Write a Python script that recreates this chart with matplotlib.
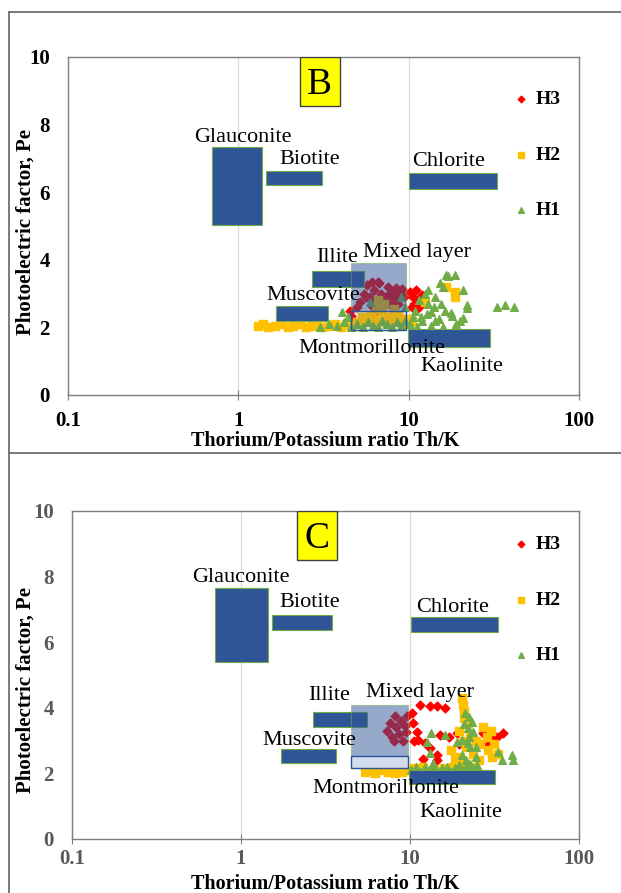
import matplotlib.pyplot as plt
from matplotlib.patches import Rectangle
from matplotlib.lines import Line2D

plt.rcParams['font.family'] = ['Liberation Serif', 'DejaVu Serif']

# ---- data: panel B ----
b_h3 = [(4.5, 2.5), (4.6, 2.35), (5.0, 2.6), (5.2, 2.75), (5.5, 3.0), (5.6, 2.9), (5.7, 3.25),
        (5.9, 2.9), (6.0, 2.65), (6.1, 3.35), (6.3, 3.1), (6.5, 2.8), (6.63, 3.34), (6.7, 3.3),
        (6.9, 3.0), (7.1, 2.75), (7.4, 2.9), (7.6, 3.2), (7.8, 2.7), (7.9, 3.05), (8.2, 2.85),
        (8.4, 3.17), (8.5, 3.1), (8.6, 2.7), (8.8, 2.95), (9.1, 3.15), (9.4, 2.9), (6.6, 2.3),
        (7.5, 2.2), (10.2, 3.05), (10.4, 2.6), (10.6, 2.9), (10.8, 2.7), (11.0, 3.1), (11.2, 2.55),
        (11.4, 2.8), (11.8, 2.65), (12.0, 2.95)]
b_h2 = [(1.3, 2.05), (1.4, 2.1), (1.5, 2.0), (1.65, 2.05), (1.8, 2.1), (1.95, 2.0), (2.1, 2.05),
        (2.3, 2.1), (2.5, 2.0), (2.7, 2.05), (2.9, 2.1), (3.1, 2.0), (3.4, 2.05), (3.7, 2.1),
        (4.0, 2.0), (4.3, 2.1), (4.6, 2.05), (5.0, 2.15), (5.3, 2.3), (5.6, 2.2), (6.0, 2.35),
        (6.3, 2.1), (6.7, 2.25), (7.0, 2.4), (7.4, 2.15), (7.8, 2.3), (8.2, 2.2), (8.7, 2.35),
        (9.2, 2.1), (9.6, 2.25), (6.6, 2.8), (6.9, 2.6), (7.2, 2.7), (8.2, 2.55), (6.4, 2.55),
        (16.6, 3.2), (18.7, 3.05), (18.7, 2.9), (10.5, 2.2), (12.5, 2.75)]
b_h1 = [(3.0, 2.0), (3.4, 2.1), (3.8, 2.05), (4.05, 2.45), (4.2, 2.15), (4.6, 2.0), (5.0, 2.1),
        (5.4, 2.0), (5.8, 2.15), (5.9, 2.75), (6.2, 2.05), (6.6, 2.0), (7.0, 2.2), (7.5, 2.1),
        (8.0, 2.0), (8.5, 2.15), (8.96, 2.9), (9.0, 2.05), (9.5, 2.6), (9.5, 2.2), (10.2, 2.1),
        (10.6, 2.3), (10.9, 2.5), (11.2, 2.0), (11.8, 2.3), (12.0, 2.2), (12.8, 2.4), (13.0, 3.1),
        (13.0, 2.7), (13.5, 2.05), (13.5, 2.45), (14.2, 2.2), (14.3, 2.9), (15.0, 2.25),
        (15.3, 3.3), (15.5, 2.7), (16.0, 2.0), (16.0, 3.2), (16.4, 2.5), (16.6, 3.55), (17.0, 3.52),
        (17.7, 2.43), (18.0, 2.35), (18.7, 3.55), (19.0, 2.1), (20.0, 2.2), (20.8, 3.1),
        (20.9, 2.28), (22.0, 2.66), (22.0, 2.57), (33.0, 2.6), (36.8, 2.66), (41.6, 2.6),
        (11.5, 2.8), (12.5, 3.0), (14.0, 2.6), (4.4, 2.3)]

# mineral zones (x0, x1, y0, y1)
b_boxes = {
    'Glauconite': (0.70, 1.38, 5.03, 7.34),
    'Biotite': (1.45, 3.08, 6.21, 6.63),
    'Chlorite': (10.0, 32.8, 6.09, 6.57),
    'Illite': (2.69, 5.5, 3.2, 3.67),
    'Muscovite': (1.66, 3.38, 2.19, 2.63),
    'Kaolinite': (9.9, 29.9, 1.42, 1.95),
}
b_mixed = (4.61, 9.66, 2.49, 3.9)
b_montm = (4.61, 9.66, 1.92, 2.49)
b_labels = {
    'Glauconite': (1.065, 7.63), 'Biotite': (2.64, 6.98), 'Chlorite': (17.2, 6.9),
    'Illite': (3.82, 4.08), 'Mixed layer': (11.2, 4.23), 'Muscovite': (2.77, 2.93),
    'Montmorillonite': (6.11, 1.39), 'Kaolinite': (20.5, 0.83),
}
b_letter = ('B', 2.29, 3.93, 8.55, 10.0)

# ---- data: panel C ----
c_h3 = [(7.3, 3.3), (7.6, 3.55), (7.8, 3.1), (8.0, 3.0), (8.1, 3.75), (8.3, 3.4), (8.6, 3.2),
        (8.8, 3.6), (9.1, 3.0), (9.3, 3.45), (9.5, 3.25), (9.6, 3.75), (10.3, 3.84), (10.4, 3.54),
        (11.0, 3.26), (11.2, 3.02), (11.5, 4.09), (12.3, 2.93), (13.1, 4.05), (13.1, 2.77),
        (14.5, 4.05), (14.5, 2.56), (14.5, 2.4), (15.0, 3.17), (16.2, 4.0), (16.9, 3.11),
        (18.9, 3.23), (27.0, 3.23), (28.8, 2.87), (30.7, 3.02), (32.7, 3.11), (35.5, 3.23),
        (10.5, 3.0), (12.0, 2.45), (19.5, 2.9)]
c_h2 = [(5.4, 2.05), (5.8, 2.1), (6.2, 2.0), (6.6, 2.1), (7.0, 2.15), (7.4, 2.05), (7.8, 2.1),
        (8.2, 2.0), (8.6, 2.1), (9.0, 2.05), (9.5, 2.1), (10.5, 2.15), (12.0, 2.2), (14.0, 2.1),
        (16.0, 2.15), (18.0, 2.2), (20.0, 2.1), (22.0, 2.2), (24.0, 2.15), (20.3, 4.3),
        (20.5, 4.1), (21.0, 3.9), (20.8, 3.7), (22.0, 3.55), (19.5, 3.3), (20.5, 3.0), (21.5, 2.8),
        (22.5, 3.2), (23.5, 2.6), (24.5, 3.0), (25.5, 2.4), (19.8, 2.5), (21.0, 2.3), (23.0, 2.2),
        (27.0, 3.4), (28.5, 3.1), (30.0, 3.3), (31.5, 2.9), (29.0, 2.7), (33.0, 2.6), (30.5, 2.5),
        (17.5, 2.7), (18.5, 2.45), (26.0, 2.9)]
c_h1 = [(10.2, 2.1), (10.8, 2.2), (11.5, 2.05), (12.2, 2.2), (13.0, 2.1), (13.8, 2.2),
        (14.6, 2.05), (15.5, 2.15), (16.5, 2.2), (17.5, 2.05), (18.5, 2.15), (19.5, 2.25),
        (20.5, 2.1), (21.5, 2.2), (22.5, 2.3), (23.5, 2.15), (13.4, 3.23), (16.2, 3.17),
        (18.9, 2.96), (21.9, 2.93), (12.6, 2.96), (13.1, 2.62), (13.7, 2.32), (20.4, 2.56),
        (24.5, 2.8), (21.1, 3.84), (22.3, 3.72), (23.3, 3.57), (21.0, 3.5), (21.9, 3.38),
        (23.7, 3.26), (22.3, 3.1), (20.2, 3.02), (22.8, 2.8), (24.5, 2.5), (21.5, 2.41),
        (25.0, 2.26), (33.0, 2.65), (40.0, 2.56), (40.8, 2.41), (35.0, 2.4)]

c_boxes = {
    'Glauconite': (0.70, 1.45, 5.4, 7.65),
    'Biotite': (1.52, 3.45, 6.37, 6.83),
    'Chlorite': (10.2, 33.0, 6.31, 6.77),
    'Illite': (2.67, 5.57, 3.41, 3.87),
    'Muscovite': (1.72, 3.65, 2.32, 2.74),
    'Kaolinite': (9.87, 31.8, 1.68, 2.1),
}
c_mixed = (4.48, 9.73, 2.16, 4.09)
c_montm = (4.48, 9.73, 2.16, 2.53)
c_labels = {
    'Glauconite': (1.0, 7.96), 'Biotite': (2.56, 7.2), 'Chlorite': (17.8, 7.07),
    'Illite': (3.33, 4.39), 'Mixed layer': (11.4, 4.48), 'Muscovite': (2.53, 2.99),
    'Montmorillonite': (7.21, 1.55), 'Kaolinite': (20.0, 0.82),
}
c_letter = ('C', 2.14, 3.70, 8.5, 10.0)

xticks = [0.1, 1, 10, 100]
xtick_labels = ['0.1', '1', '10', '100']
yticks = [0, 2, 4, 6, 8, 10]

BLUE = '#2f5597'
GREEN_EDGE = '#70ad47'


def rect(ax, b, **kw):
    x0, x1, y0, y1 = b
    ax.add_patch(Rectangle((x0, y0), x1 - x0, y1 - y0, **kw))


def panel(ax, h3, h2, h1, boxes, mixed, montm, labels, letter, tick_color, montm_face,
          montm_alpha, xpad, leg_y):
    s3 = ax.scatter([p[0] for p in h3], [p[1] for p in h3], marker='D', s=20,
                    color='#ff0000', zorder=2, label='H3')
    s2 = ax.scatter([p[0] for p in h2], [p[1] for p in h2], marker='s', s=28,
                    color='#ffc000', zorder=2, label='H2')
    s1 = ax.scatter([p[0] for p in h1], [p[1] for p in h1], marker='^', s=30,
                    color='#70ad47', zorder=2, label='H1')

    for name, b in boxes.items():
        rect(ax, b, facecolor=BLUE, edgecolor=GREEN_EDGE, lw=0.8, zorder=3)
    rect(ax, mixed, facecolor=BLUE, alpha=0.5, edgecolor=GREEN_EDGE, lw=0.8, zorder=3)
    rect(ax, montm, facecolor=montm_face, alpha=montm_alpha, zorder=3)
    rect(ax, montm, facecolor='none', edgecolor=BLUE, lw=1.0, zorder=3)

    for name, (x, y) in labels.items():
        ax.text(x, y, name, fontsize=16, ha='center', va='center', zorder=4)

    t, x0, x1, y0, y1 = letter
    rect(ax, (x0, x1, y0, y1), facecolor='#ffff00', edgecolor='#404040', lw=1.0, zorder=4)
    ax.text((x0 * x1) ** 0.5, (y0 + y1) / 2 - 0.1, t, fontsize=27, ha='center', va='center',
            zorder=5)

    ax.set_xscale('log')
    ax.set_xlim(0.1, 100)
    ax.set_ylim(0, 10)
    ax.set_xticks(xticks)
    ax.set_xticklabels(xtick_labels)
    ax.minorticks_off()
    ax.set_yticks(yticks)
    ax.tick_params(axis='x', direction='inout', length=7, color='#7f7f7f', pad=xpad,
                   labelsize=15, labelcolor=tick_color)
    ax.tick_params(axis='y', length=0, pad=13, labelsize=15, labelcolor=tick_color)
    for lab in ax.get_xticklabels() + ax.get_yticklabels():
        lab.set_fontweight('bold')
    ax.grid(axis='x', color='#d9d9d9', lw=0.9)
    ax.set_axisbelow(True)
    for sp in ax.spines.values():
        sp.set_color('#7f7f7f')
        sp.set_linewidth(1.0)

    ax.legend(handles=[s3, s2, s1], loc='upper left', bbox_to_anchor=(0.875, leg_y),
              frameon=False, prop={'weight': 'bold', 'size': 14}, handlelength=0.6,
              handletextpad=0.45, labelspacing=1.95, borderpad=0, borderaxespad=0,
              scatterpoints=1, markerscale=0.75)


fig = plt.figure(figsize=(6.21, 8.93), dpi=100)
W, H = 621, 893
axB = fig.add_axes([68 / W, 1 - 395 / H, 511 / W, 338 / H])
axC = fig.add_axes([72 / W, 1 - 839 / H, 507 / W, 328 / H])

panel(axB, b_h3, b_h2, b_h1, b_boxes, b_mixed, b_montm, b_labels, b_letter,
      'black', BLUE, 0.15, 8, 0.90)
panel(axC, c_h3, c_h2, c_h1, c_boxes, c_mixed, c_montm, c_labels, c_letter,
      '#595959', '#dae3f3', 0.9, 4, 0.925)

# axis titles
fig.text(325 / W, 1 - 441 / H, 'Thorium/Potassium ratio Th/K', ha='center', va='center',
         fontsize=14.5, fontweight='bold')
fig.text(325 / W, 1 - 884 / H, 'Thorium/Potassium ratio Th/K', ha='center', va='center',
         fontsize=14.5, fontweight='bold')
fig.text(26 / W, 1 - 232 / H, 'Photoelectric factor, Pe', ha='center', va='center',
         rotation=90, fontsize=15, fontweight='bold')
fig.text(26 / W, 1 - 690 / H, 'Photoelectric factor, Pe', ha='center', va='center',
         rotation=90, fontsize=15, fontweight='bold')

# outer frame lines around the two panels
frame = '#6f6f6f'
fig.add_artist(Line2D([9 / W, 9 / W], [0, 1 - 12 / H], color=frame, lw=1.3))
fig.add_artist(Line2D([9 / W, 1], [1 - 12 / H, 1 - 12 / H], color=frame, lw=1.3))
fig.add_artist(Line2D([9 / W, 1], [1 - 453 / H, 1 - 453 / H], color=frame, lw=1.3))

fig.savefig('out.png', dpi=100)
